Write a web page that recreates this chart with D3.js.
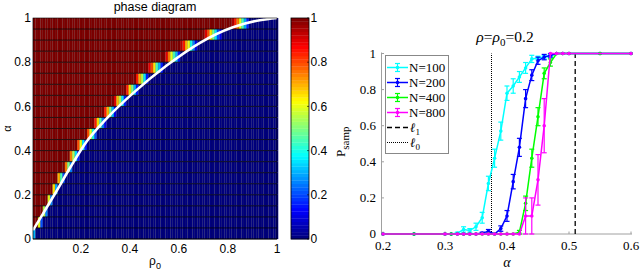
<!DOCTYPE html>
<html>
<head>
<meta charset="utf-8">
<script src="https://cdn.jsdelivr.net/npm/d3@7"></script>
<style>
  body { margin: 0; background: #fff; }
  svg { display: block; }
  .sans { font-family: "Liberation Sans", Arial, sans-serif; }
  .serif { font-family: "Liberation Serif", "Times New Roman", serif; }
</style>
</head>
<body>
<svg width="640" height="272"></svg>
<script>
// ---- left panel: phase diagram ----
// alpha rows, top to bottom (row centres)
var rowAlpha = [0.975, 0.925, 0.875, 0.825, 0.775, 0.725, 0.675, 0.625, 0.575, 0.525,
                0.475, 0.425, 0.375, 0.325, 0.275, 0.225, 0.175, 0.125, 0.075, 0.025];
// first rho0 in each row where success drops below 1
var rowStart = [0.82, 0.71, 0.61, 0.55, 0.48, 0.43, 0.39, 0.34, 0.30, 0.26,
                0.23, 0.19, 0.16, 0.14, 0.11, 0.09, 0.07, 0.05, 0.03, 0.01];
// values of the transition cells (after them everything is 0)
var rowRamp = [
  [0.95, 0.85, 0.75, 0.6, 0.45, 0.3, 0.15],
  [0.9, 0.8, 0.65, 0.5, 0.35, 0.2, 0.1],
  [0.95, 0.85, 0.7, 0.6, 0.4, 0.25, 0.1],
  [0.9, 0.75, 0.6, 0.45, 0.3, 0.15],
  [0.9, 0.8, 0.65, 0.45, 0.3, 0.15],
  [0.85, 0.7, 0.55, 0.35, 0.15],
  [0.85, 0.65, 0.5, 0.3, 0.15],
  [0.9, 0.7, 0.55, 0.35, 0.15],
  [0.85, 0.7, 0.5, 0.3, 0.1],
  [0.85, 0.65, 0.45, 0.25, 0.1],
  [0.8, 0.6, 0.4, 0.2],
  [0.8, 0.6, 0.35, 0.15],
  [0.75, 0.55, 0.35, 0.15],
  [0.75, 0.5, 0.25],
  [0.7, 0.45, 0.2],
  [0.65, 0.3],
  [0.6, 0.25],
  [0.55, 0.25],
  [0.6, 0.2],
  [0.3]
];
// white boundary curve
var curveRho   = [0.005, 0.046, 0.10, 0.155, 0.223, 0.305, 0.413, 0.55, 0.686, 0.82, 0.93, 1.0];
var curveAlpha = [0.04, 0.115, 0.215, 0.32, 0.44, 0.545, 0.66, 0.785, 0.888, 0.958, 0.99, 1.0];
var leftXTicks = [0.2, 0.4, 0.6, 0.8, 1];
var leftYTicks = [0, 0.2, 0.4, 0.6, 0.8, 1];
var cbTicks = [0, 0.2, 0.4, 0.6, 0.8, 1];

// ---- right panel: P_samp vs alpha ----
var alphaA = [0.2, 0.25, 0.3, 0.31, 0.32, 0.33, 0.34, 0.35, 0.36, 0.37, 0.38, 0.39, 0.40,
              0.41, 0.42, 0.43, 0.44, 0.45, 0.46, 0.47, 0.48, 0.49, 0.50, 0.55, 0.6];
var alphaB = [0.2, 0.3, 0.32, 0.33, 0.34, 0.35, 0.36, 0.37, 0.38, 0.39, 0.40,
              0.41, 0.42, 0.43, 0.44, 0.45, 0.46, 0.47, 0.48, 0.49, 0.50, 0.6];
var p100 = [0, 0, 0, 0, 0.005, 0.025, 0.02, 0.04, 0.09, 0.28, 0.42, 0.57, 0.78,
            0.82, 0.87, 0.92, 0.97, 0.975, 0.98, 0.985, 1, 1, 1, 1, 1];
var e100 = [0, 0, 0, 0, 0.005, 0.015, 0.01, 0.02, 0.03, 0.04, 0.05, 0.05, 0.04,
            0.04, 0.03, 0.03, 0.02, 0.01, 0.01, 0.01, 0, 0, 0, 0, 0];
var p200 = [0, 0, 0, 0, 0, 0, 0, 0, 0.005, 0.015, 0, 0.03, 0.1,
            0.29, 0.48, 0.75, 0.88, 0.96, 0.98, 0.99, 1, 1, 1, 1, 1];
var e200 = [0, 0, 0, 0, 0, 0, 0, 0, 0.005, 0.01, 0, 0.015, 0.03,
            0.04, 0.05, 0.05, 0.03, 0.02, 0.015, 0.01, 0, 0, 0, 0, 0];
var p400 = [0, 0, 0, 0, 0, 0, 0, 0, 0, 0, 0, 0, 0,
            0, 0.01, 0.17, 0.42, 0.65, 0.89, 0.95, 1, 1, 1, 1, 1];
var e400 = [0, 0, 0, 0, 0, 0, 0, 0, 0, 0, 0, 0, 0,
            0, 0.01, 0.04, 0.05, 0.05, 0.03, 0.02, 0, 0, 0, 0, 0];
var p800 = [0, 0, 0, 0, 0, 0, 0, 0, 0, 0, 0,
            0, 0, 0.1, 0.1, 0.3, 0.6, 1, 1, 1, 1, 1];
var e800 = [0, 0, 0, 0, 0, 0, 0, 0, 0, 0, 0,
            0, 0, 0.1, 0.1, 0.14, 0.15, 0, 0, 0, 0, 0];
var seriesNames = ["N=100", "N=200", "N=400", "N=800"];
var seriesColors = ["#00ffff", "#0000ff", "#00ff00", "#ff00ff"];
var l1Alpha = 0.51;
var l0Alpha = 0.375;
var rightXTicks = [0.2, 0.3, 0.4, 0.5, 0.6];
var rightYTicks = [0, 0.2, 0.4, 0.6, 0.8, 1];

var series = [
  { name: seriesNames[0], color: seriesColors[0], a: alphaA, p: p100, e: e100 },
  { name: seriesNames[1], color: seriesColors[1], a: alphaA, p: p200, e: e200 },
  { name: seriesNames[2], color: seriesColors[2], a: alphaA, p: p400, e: e400 },
  { name: seriesNames[3], color: seriesColors[3], a: alphaB, p: p800, e: e800 }
];

// MATLAB jet
function jet(v) {
  var c = x => Math.max(0, Math.min(1, x));
  var r = c(1.5 - Math.abs(4 * v - 3)),
      g = c(1.5 - Math.abs(4 * v - 2)),
      b = c(1.5 - Math.abs(4 * v - 1));
  return d3.rgb(r * 255, g * 255, b * 255).toString();
}

var svg = d3.select("svg");

// ================= left =================
var x = d3.scaleLinear().domain([0.005, 1]).range([33, 277]);
var y = d3.scaleLinear().domain([0, 1]).range([239, 18]);
var rowH = (y(0) - y(1)) / rowAlpha.length;
var rhoCols = d3.range(1, 101).map(i => i / 100);

var cells = [];
rowAlpha.forEach(function(a, r) {
  rhoCols.forEach(function(rho) {
    var v;
    if (rho < rowStart[r] - 1e-9) v = 1;
    else {
      var k = Math.round((rho - rowStart[r]) * 100);
      v = k < rowRamp[r].length ? rowRamp[r][k] : 0;
    }
    cells.push({ rho: rho, a: a, v: v });
  });
});

var left = svg.append("g");
left.selectAll("rect.cell")
  .data(cells)
  .enter().append("rect")
    .attr("class", "cell")
    .attr("x", d => x(d.rho - 0.005))
    .attr("width", d => x(d.rho + 0.005) - x(d.rho - 0.005) + 0.05)
    .attr("y", d => y(d.a + 0.025))
    .attr("height", rowH + 0.05)
    .attr("fill", d => jet(d.v));

// cell edges (texture)
left.selectAll("line.vgrid")
  .data(rhoCols)
  .enter().append("line")
    .attr("x1", d => x(d - 0.005)).attr("x2", d => x(d - 0.005))
    .attr("y1", y(1)).attr("y2", y(0))
    .attr("stroke", "#000").attr("stroke-opacity", 0.35).attr("stroke-width", 0.5);
left.selectAll("line.hgrid")
  .data(rowAlpha)
  .enter().append("line")
    .attr("x1", x(0.005)).attr("x2", x(1))
    .attr("y1", d => y(d - 0.025)).attr("y2", d => y(d - 0.025))
    .attr("stroke", "#000").attr("stroke-opacity", 0.85).attr("stroke-width", 0.9);

// boundary curve
var curvePts = curveRho.map((r, i) => [r, curveAlpha[i]]);
left.append("path")
  .datum(curvePts)
  .attr("d", d3.line().x(d => x(d[0])).y(d => y(d[1])).curve(d3.curveMonotoneX))
  .attr("fill", "none")
  .attr("stroke", "#fff")
  .attr("stroke-width", 2.6);

left.append("rect")
  .attr("x", x(0.005)).attr("y", y(1))
  .attr("width", x(1) - x(0.005)).attr("height", y(0) - y(1))
  .attr("fill", "none").attr("stroke", "#000").attr("stroke-width", 0.6);

left.selectAll("text.xt")
  .data(leftXTicks)
  .enter().append("text")
    .attr("class", "sans")
    .attr("x", d => x(d)).attr("y", 253)
    .attr("text-anchor", "middle")
    .style("font-size", "12px")
    .text(d => d);
left.selectAll("text.yt")
  .data(leftYTicks)
  .enter().append("text")
    .attr("class", "sans")
    .attr("x", 31).attr("y", d => y(d) + 4.2)
    .attr("text-anchor", "end")
    .style("font-size", "12px")
    .text(d => d);

left.append("text")
  .attr("class", "sans")
  .attr("x", 155).attr("y", 11)
  .attr("text-anchor", "middle")
  .style("font-size", "12.5px")
  .text("phase diagram");

var xl = left.append("text")
  .attr("class", "sans")
  .attr("x", 155).attr("y", 265)
  .attr("text-anchor", "middle")
  .style("font-size", "12px");
xl.append("tspan").text("ρ");
xl.append("tspan").attr("dy", 4).style("font-size", "9px").text("0");

left.append("text")
  .attr("class", "sans")
  .attr("transform", "translate(11," + (y(0.5)) + ") rotate(-90)")
  .attr("text-anchor", "middle")
  .style("font-size", "11px")
  .text("α");

// colorbar
var cbX0 = 291, cbX1 = 309;
var cb = svg.append("g");
var cbLevels = d3.range(64);
cb.selectAll("rect")
  .data(cbLevels)
  .enter().append("rect")
    .attr("x", cbX0)
    .attr("width", cbX1 - cbX0)
    .attr("y", d => y((d + 1) / 64))
    .attr("height", rowH * 20 / 64 + 0.3)
    .attr("fill", d => jet(d / 63));
cb.append("rect")
  .attr("x", cbX0).attr("y", y(1))
  .attr("width", cbX1 - cbX0).attr("height", y(0) - y(1))
  .attr("fill", "none").attr("stroke", "#000").attr("stroke-width", 0.8);
cb.selectAll("line.tk")
  .data(cbTicks)
  .enter().append("line")
    .attr("x1", cbX1 - 2).attr("x2", cbX1)
    .attr("y1", d => y(d)).attr("y2", d => y(d))
    .attr("stroke", "#000").attr("stroke-width", 0.6);
cb.selectAll("text")
  .data(cbTicks)
  .enter().append("text")
    .attr("class", "sans")
    .attr("x", cbX1 + 1.5).attr("y", d => y(d) + 4.2)
    .style("font-size", "12px")
    .text(d => d);

// ================= right =================
var rx = d3.scaleLinear().domain([0.2, 0.6]).range([383, 631]);
var ry = d3.scaleLinear().domain([0, 1]).range([234, 53.5]);
var right = svg.append("g");
var axisGray = "#a0a0a0";

right.append("line")
  .attr("x1", 381.5).attr("x2", 381.5).attr("y1", ry(1) - 1).attr("y2", ry(0))
  .attr("stroke", axisGray).attr("stroke-width", 1);
right.append("line")
  .attr("x1", 381.5).attr("x2", rx(0.6) + 1).attr("y1", ry(0)).attr("y2", ry(0))
  .attr("stroke", axisGray).attr("stroke-width", 1);
right.selectAll("line.xtk")
  .data(rightXTicks)
  .enter().append("line")
    .attr("x1", d => rx(d)).attr("x2", d => rx(d))
    .attr("y1", ry(0)).attr("y2", ry(0) - 2.5)
    .attr("stroke", axisGray);
right.selectAll("line.ytk")
  .data(rightYTicks)
  .enter().append("line")
    .attr("x1", 381.5).attr("x2", 384)
    .attr("y1", d => ry(d)).attr("y2", d => ry(d))
    .attr("stroke", axisGray);

right.selectAll("text.xt")
  .data(rightXTicks)
  .enter().append("text")
    .attr("class", "serif")
    .attr("x", d => rx(d)).attr("y", 250)
    .attr("text-anchor", "middle")
    .style("font-size", "13px")
    .text(d => d);
right.selectAll("text.yt")
  .data(rightYTicks)
  .enter().append("text")
    .attr("class", "serif")
    .attr("x", 376).attr("y", d => ry(d) + 4)
    .attr("text-anchor", "end")
    .style("font-size", "13px")
    .text(d => d);

// threshold lines
right.append("line")
  .attr("x1", rx(l0Alpha)).attr("x2", rx(l0Alpha))
  .attr("y1", ry(0)).attr("y2", ry(1))
  .attr("stroke", "#000").attr("stroke-width", 1).attr("stroke-dasharray", "1,1");
right.append("line")
  .attr("x1", rx(l1Alpha)).attr("x2", rx(l1Alpha))
  .attr("y1", ry(0)).attr("y2", ry(1))
  .attr("stroke", "#000").attr("stroke-width", 1.3).attr("stroke-dasharray", "5,3");

var line = d3.line().x(d => rx(d.a)).y(d => ry(d.p));
series.forEach(function(s) {
  var pts = s.a.map((a, i) => ({ a: a, p: s.p[i], e: s.e[i] }));
  var g = right.append("g");
  g.append("path")
    .datum(pts)
    .attr("d", line)
    .attr("fill", "none")
    .attr("stroke", s.color)
    .attr("stroke-width", 1.5);
  var eb = g.selectAll("g.eb")
    .data(pts.filter(d => d.e > 0))
    .enter().append("g")
      .attr("stroke", s.color).attr("stroke-width", 1.2);
  eb.append("line")
    .attr("x1", d => rx(d.a)).attr("x2", d => rx(d.a))
    .attr("y1", d => ry(d.p - d.e)).attr("y2", d => ry(d.p + d.e));
  eb.append("line")
    .attr("x1", d => rx(d.a) - 2.5).attr("x2", d => rx(d.a) + 2.5)
    .attr("y1", d => ry(d.p - d.e)).attr("y2", d => ry(d.p - d.e));
  eb.append("line")
    .attr("x1", d => rx(d.a) - 2.5).attr("x2", d => rx(d.a) + 2.5)
    .attr("y1", d => ry(d.p + d.e)).attr("y2", d => ry(d.p + d.e));
  g.selectAll("circle")
    .data(pts)
    .enter().append("circle")
      .attr("cx", d => rx(d.a)).attr("cy", d => ry(d.p))
      .attr("r", 1.8)
      .attr("fill", s.color);
});

// title
var tt = right.append("text")
  .attr("class", "serif")
  .attr("x", 505).attr("y", 42)
  .attr("text-anchor", "middle")
  .style("font-size", "15.5px");
tt.append("tspan").style("font-style", "italic").text("ρ");
tt.append("tspan").text("=");
tt.append("tspan").style("font-style", "italic").text("ρ");
tt.append("tspan").attr("dy", 4).style("font-size", "11px").text("0");
tt.append("tspan").attr("dy", -4).text("=0.2");

// y label
var yl = right.append("text")
  .attr("class", "serif")
  .attr("transform", "translate(345,157) rotate(-90)")
  .style("font-size", "13px");
yl.append("tspan").text("P");
yl.append("tspan").attr("dy", 4).style("font-size", "11px").text("samp");

// x label
right.append("text")
  .attr("class", "serif")
  .attr("x", rx(0.4)).attr("y", 267)
  .attr("text-anchor", "middle")
  .style("font-size", "14px")
  .style("font-style", "italic")
  .text("α");

// legend
var lg = right.append("g");
lg.append("rect")
  .attr("x", 385.5).attr("y", 55.5).attr("width", 63).attr("height", 98)
  .attr("fill", "#fff").attr("stroke", "#888").attr("stroke-width", 1);
var lgY = d3.scaleBand().domain(d3.range(6)).range([60, 150]);
series.forEach(function(s, i) {
  var cy = lgY(i) + lgY.bandwidth() / 2;
  var row = lg.append("g").attr("stroke", s.color);
  row.append("line").attr("x1", 387).attr("x2", 408).attr("y1", cy).attr("y2", cy).attr("stroke-width", 1.5);
  row.append("line").attr("x1", 397.5).attr("x2", 397.5).attr("y1", cy - 4).attr("y2", cy + 4).attr("stroke-width", 1.2);
  row.append("line").attr("x1", 395).attr("x2", 400).attr("y1", cy - 4).attr("y2", cy - 4).attr("stroke-width", 1.2);
  row.append("line").attr("x1", 395).attr("x2", 400).attr("y1", cy + 4).attr("y2", cy + 4).attr("stroke-width", 1.2);
  lg.append("circle").attr("cx", 397.5).attr("cy", cy).attr("r", 1.8).attr("fill", s.color);
  lg.append("text")
    .attr("class", "serif")
    .attr("x", 409).attr("y", cy + 4.5)
    .style("font-size", "13px")
    .text(s.name);
});
[["1", "5,3", 1.3], ["0", "1,1", 1]].forEach(function(l, j) {
  var cy = lgY(4 + j) + lgY.bandwidth() / 2;
  lg.append("line")
    .attr("x1", 387).attr("x2", 408).attr("y1", cy).attr("y2", cy)
    .attr("stroke", "#000").attr("stroke-width", l[2]).attr("stroke-dasharray", l[1]);
  var t = lg.append("text")
    .attr("class", "serif")
    .attr("x", 410).attr("y", cy + 4.5)
    .style("font-size", "13px");
  t.append("tspan").style("font-style", "italic").text("ℓ");
  t.append("tspan").attr("dy", 3).style("font-size", "9px").text(l[0]);
});
</script>
</body>
</html>
